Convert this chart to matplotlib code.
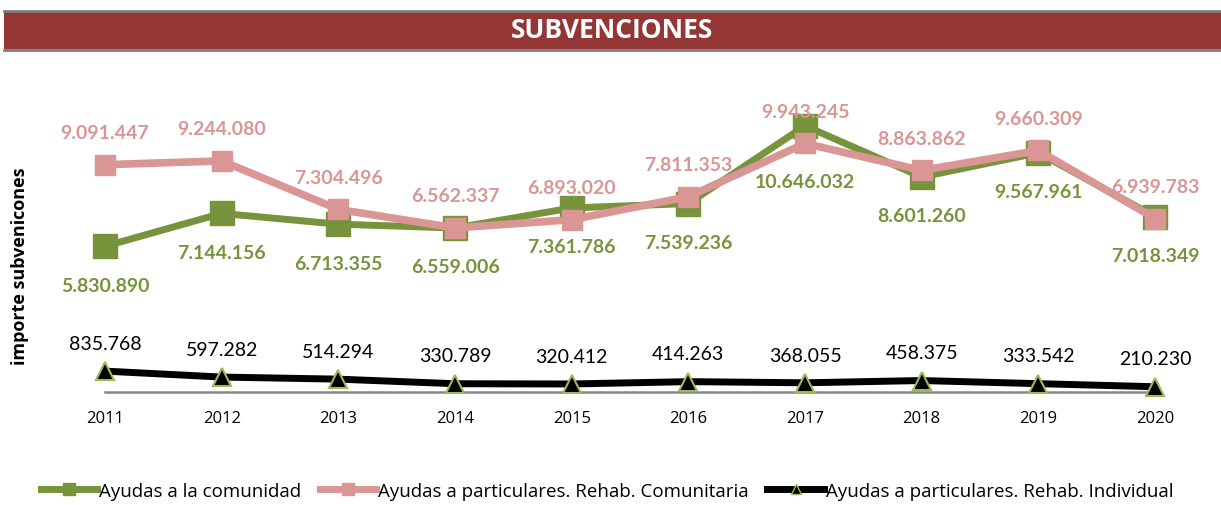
import matplotlib.pyplot as plt
from matplotlib.patches import Rectangle
from matplotlib.lines import Line2D

# data
years = ['2011', '2012', '2013', '2014', '2015', '2016', '2017', '2018', '2019', '2020']
comunidad = [5830890, 7144156, 6713355, 6559006, 7361786, 7539236, 10646032, 8601260, 9567961, 7018349]
rehab_comunitaria = [9091447, 9244080, 7304496, 6562337, 6893020, 7811353, 9943245, 8863862, 9660309, 6939783]
rehab_individual = [835768, 597282, 514294, 330789, 320412, 414263, 368055, 458375, 333542, 210230]

series_names = ['Ayudas a la comunidad',
                'Ayudas a particulares. Rehab. Comunitaria',
                'Ayudas a particulares. Rehab. Individual']

GREEN = '#77933c'
PINK = '#d99694'
LIGHTGREEN = '#9bbb59'


def fmt(v):
    # spanish thousands separator
    return f'{v:,}'.replace(',', '.')


fig = plt.figure(figsize=(12.21, 5.06), dpi=100)

# title bar
fig.add_artist(Rectangle((4 / 1221, 1 - 50 / 506), 1 - 4 / 1221, 38 / 506,
                         transform=fig.transFigure, facecolor='#943634', edgecolor='none'))
for yy in (11.5, 50.5):
    fig.add_artist(Line2D([4 / 1221, 1], [1 - yy / 506] * 2, transform=fig.transFigure,
                          color='#7f7f7f', lw=2))
fig.text(612 / 1221, 1 - 31 / 506, 'SUBVENCIONES', color='white', fontsize=19,
         fontweight='bold', family='Open Sans', ha='center', va='center')

ax = fig.add_axes([105 / 1221, 1 - 393 / 506, 1050 / 1221, 300 / 506])
x = list(range(len(years)))

ax.plot(x, comunidad, color=GREEN, lw=5, marker='s', markersize=17,
        markerfacecolor=GREEN, markeredgecolor=GREEN, clip_on=False, zorder=3)
ax.plot(x, rehab_comunitaria, color=PINK, lw=5.5, marker='s', markersize=14,
        markerfacecolor=PINK, markeredgecolor=PINK, clip_on=False, zorder=4)
ax.plot(x, rehab_individual, color='black', lw=5, marker='^', markersize=13,
        markerfacecolor='black', markeredgecolor=LIGHTGREEN, markeredgewidth=1.5,
        clip_on=False, zorder=5)

# data labels (2017 green label sits lower, as in the original)
green_dy = [-28] * len(years)
green_dy[6] = -40
for i in x:
    ax.annotate(fmt(comunidad[i]), (i, comunidad[i]), xytext=(0, green_dy[i]),
                textcoords='offset points', ha='center', va='center',
                color=GREEN, fontsize=14, fontweight='bold', family='Lato')
    ax.annotate(fmt(rehab_comunitaria[i]), (i, rehab_comunitaria[i]), xytext=(0, 23),
                textcoords='offset points', ha='center', va='center',
                color=PINK, fontsize=14, fontweight='bold', family='Lato')
    ax.annotate(fmt(rehab_individual[i]), (i, rehab_individual[i]), xytext=(0, 20),
                textcoords='offset points', ha='center', va='center',
                color='black', fontsize=14, family='Lato')

ax.set_xlim(0, len(years) - 1)
ax.set_ylim(0, 12000000)
ax.set_xticks(x)
ax.set_xticklabels(years, fontsize=12, family='Open Sans')
ax.set_yticks([])
ax.tick_params(axis='x', length=0, pad=13)
for s in ('top', 'right', 'left'):
    ax.spines[s].set_visible(False)
ax.spines['bottom'].set_color('#868686')
ax.spines['bottom'].set_linewidth(1.8)

fig.text(20 / 1221, 1 - 266 / 506, 'importe subvenicones', rotation=90, fontsize=13,
         fontweight='bold', family='Open Sans', ha='center', va='center')

handles = [
    Line2D([], [], color=GREEN, lw=5, marker='s', markersize=8, markerfacecolor=GREEN,
           markeredgecolor=GREEN),
    Line2D([], [], color=PINK, lw=5, marker='s', markersize=8, markerfacecolor=PINK,
           markeredgecolor=PINK),
    Line2D([], [], color='black', lw=5, marker='^', markersize=7, markerfacecolor='black',
           markeredgecolor=LIGHTGREEN),
]
fig.legend(handles, series_names, loc='center', bbox_to_anchor=(607 / 1221, 1 - 492 / 506),
           ncol=3, frameon=False, prop={'family': 'Open Sans', 'size': 13.5},
           handlelength=3.0, handletextpad=0.1, columnspacing=1.0)

fig.savefig('out.png', dpi=100)
